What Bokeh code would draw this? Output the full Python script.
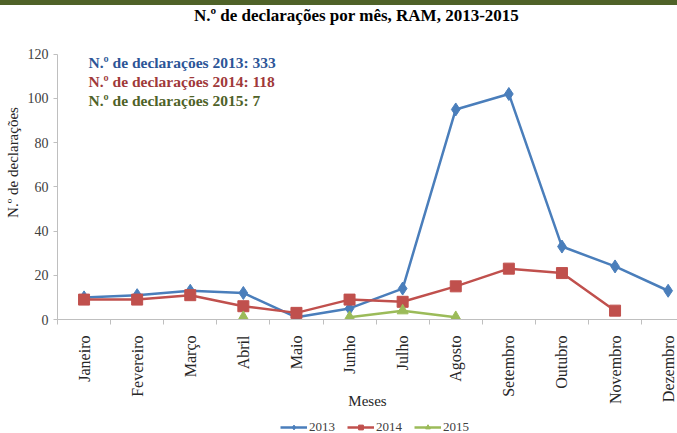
import math
from bokeh.plotting import figure
from bokeh.models import (ColumnDataSource, FixedTicker, Label, Legend,
                          LegendItem, Range1d, Div)
from bokeh.layouts import column
from bokeh.embed import file_html
from bokeh.resources import INLINE

months = ["Janeiro", "Fevereiro", "Março", "Abril", "Maio", "Junho", "Julho",
          "Agosto", "Setembro", "Outubro", "Novembro", "Dezembro"]
nan = float("nan")
v2013 = [10, 11, 13, 12, 1, 5, 14, 95, 102, 33, 24, 13]
v2014 = [9, 9, 11, 6, 3, 9, 8, 15, 23, 21, 4, nan]
v2015 = [nan, nan, nan, 1, nan, 1, 4, 1, nan, nan, nan, nan]
totals = {"2013": 333, "2014": 118, "2015": 7}
y_ticks = [0, 20, 40, 60, 80, 100, 120]

SERIF = "Liberation Serif"
xs = list(range(len(months)))

# thin decorative green strip at the very top
top = Div(text="", width=677, height=5, margin=0,
          styles={"background-color": "#4f6228"})

# main chart: frame reaches the top of the canvas; axis line limited to 0..120
p = figure(width=677, height=406, output_backend="svg", toolbar_location=None,
           x_range=Range1d(-0.5, 11.176), y_range=Range1d(0, 142.02),
           min_border_left=57, min_border_right=0, min_border_top=0,
           min_border_bottom=90)
p.outline_line_color = None
p.grid.grid_line_color = None

# y axis
p.yaxis.ticker = FixedTicker(ticks=y_ticks)
p.yaxis.bounds = (0, 120)
p.yaxis.axis_line_color = "#bfbfbf"
p.yaxis.major_tick_line_color = "#bfbfbf"
p.yaxis.major_tick_out = 4
p.yaxis.major_tick_in = 0
p.yaxis.minor_tick_line_color = None
p.yaxis.major_label_text_font = SERIF
p.yaxis.major_label_text_font_size = "14px"
p.yaxis.major_label_text_color = "#404040"
p.yaxis.major_label_standoff = 5
p.yaxis.axis_label = "N.º de declarações"
p.yaxis.axis_label_text_font = SERIF
p.yaxis.axis_label_text_font_size = "15px"
p.yaxis.axis_label_text_font_style = "normal"
p.yaxis.axis_label_text_color = "#262626"
p.yaxis.axis_label_standoff = 4

# x axis: labels at month centres, tick marks between months
p.xaxis.ticker = FixedTicker(ticks=xs, minor_ticks=[i + 0.5 for i in range(-1, 11)])
p.xaxis.major_label_overrides = {i: m for i, m in enumerate(months)}
p.xaxis.major_label_orientation = math.pi / 2
p.xaxis.axis_line_color = "#bfbfbf"
p.xaxis.major_tick_out = 0
p.xaxis.major_tick_in = 0
p.xaxis.major_tick_line_color = None
p.xaxis.minor_tick_line_color = "#bfbfbf"
p.xaxis.minor_tick_out = 5
p.xaxis.minor_tick_in = 0
p.xaxis.major_label_standoff = 11
p.xaxis.major_label_text_font = SERIF
p.xaxis.major_label_text_font_size = "16px"
p.xaxis.major_label_text_color = "#262626"
p.xaxis.axis_label = "Meses"
p.xaxis.axis_label_text_font = SERIF
p.xaxis.axis_label_text_font_size = "15px"
p.xaxis.axis_label_text_font_style = "normal"
p.xaxis.axis_label_text_color = "#262626"
p.xaxis.axis_label_standoff = -14

# legend strip (separate small figure)
lg = figure(width=677, height=22, output_backend="svg", toolbar_location=None,
            x_range=Range1d(0, 1), y_range=Range1d(0, 1),
            x_axis_type=None, y_axis_type=None,
            min_border_left=0, min_border_right=0, min_border_top=0,
            min_border_bottom=0)
lg.outline_line_color = None
lg.grid.grid_line_color = None

# series
styles = [
    ("2013", v2013, "#4a7ebb", "diamond", 13),
    ("2014", v2014, "#c0504d", "square", 11),
    ("2015", v2015, "#9bbb59", "triangle", 11),
]
items = []
for name, vals, col, marker, size in styles:
    src = ColumnDataSource(dict(x=xs, y=vals))
    p.line("x", "y", source=src, line_color=col, line_width=2.5)
    p.scatter("x", "y", source=src, marker=marker, size=size,
              fill_color=col, line_color=col)
    lsrc = ColumnDataSource(dict(x=[nan], y=[nan]))
    l2 = lg.line("x", "y", source=lsrc, line_color=col, line_width=2.5)
    s2 = lg.scatter("x", "y", source=lsrc, marker=marker, size=7,
                    fill_color=col, line_color=col)
    items.append(LegendItem(label=name, renderers=[l2, s2]))

legend = Legend(items=items, orientation="horizontal", location=(223, -2),
                border_line_color=None, background_fill_alpha=0,
                label_text_font=SERIF, label_text_font_size="13px",
                label_text_color="#404040", glyph_width=27, glyph_height=12,
                label_standoff=2, spacing=12, padding=0, margin=0,
                label_height=12)
lg.add_layout(legend, "center")

# title
p.add_layout(Label(x=299, y=304, x_units="screen", y_units="screen",
                   text="N.º de declarações por mês, RAM, 2013-2015",
                   text_font=SERIF, text_font_size="17px",
                   text_font_style="bold", text_align="center",
                   text_baseline="middle", text_color="#000000"))

# annotation texts
ann = [("N.º de declarações 2013: " + str(totals["2013"]), "#2c5597", 257),
       ("N.º de declarações 2014: " + str(totals["2014"]), "#a0393a", 238),
       ("N.º de declarações 2015: " + str(totals["2015"]), "#4f6228", 219)]
for txt, col, yy in ann:
    p.add_layout(Label(x=31, y=yy, x_units="screen", y_units="screen",
                       text=txt, text_font=SERIF, text_font_size="15.5px",
                       text_font_style="bold", text_color=col,
                       text_baseline="middle"))

open("out.html", "w").write(file_html(column(top, p, lg, spacing=0), INLINE))
